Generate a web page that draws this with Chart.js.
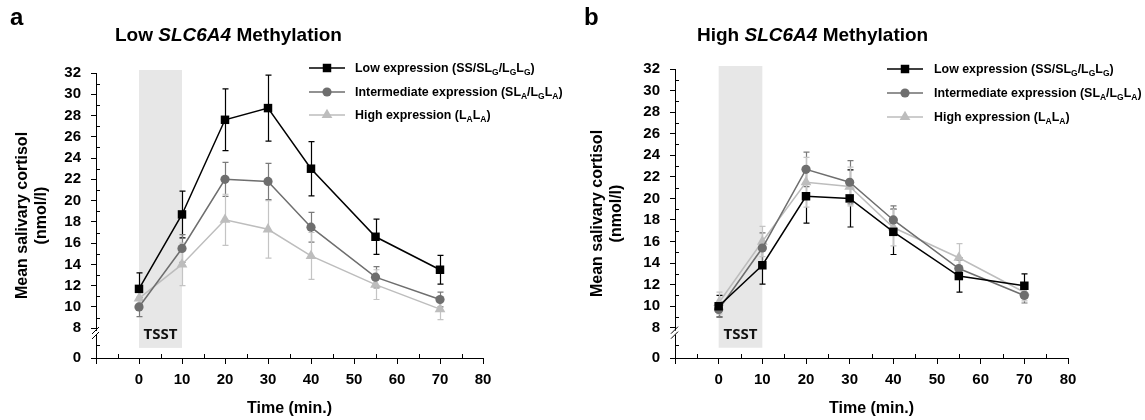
<!DOCTYPE html>
<html><head><meta charset="utf-8">
<script src="https://cdn.jsdelivr.net/npm/chart.js@4/dist/chart.umd.min.js"></script>
<style>
body{margin:0;background:#fff;width:1145px;height:420px;position:relative;overflow:hidden;font-family:"Liberation Sans",Arial,sans-serif;}
canvas{position:absolute;top:0;}
.lbl{position:absolute;font-weight:bold;color:#000;white-space:nowrap;}
.letter{font-size:24px;line-height:28px;}
.title{font-size:19px;line-height:22px;}
.leg{font-size:12.4px;line-height:16px;}
.leg sub{font-size:8.5px;vertical-align:-3px;line-height:0;}
</style></head>
<body>
<canvas id="c1" width="572" height="420" style="left:0px"></canvas>
<canvas id="c2" width="572" height="420" style="left:573px"></canvas>
<div id="overlay"></div>
<script>
// ---------- data ----------
const timePoints = [0, 10, 20, 30, 40, 55, 70];
const seriesLabelsHtml = [
  'Low expression (SS/SL<sub>G</sub>/L<sub>G</sub>L<sub>G</sub>)',
  'Intermediate expression (SL<sub>A</sub>/L<sub>G</sub>L<sub>A</sub>)',
  'High expression (L<sub>A</sub>L<sub>A</sub>)'
];
const panelLetters = ['a', 'b'];
const panelTitlesHtml = ['Low <i>SLC6A4</i> Methylation', 'High <i>SLC6A4</i> Methylation'];

// Panel a: Low SLC6A4 methylation
const lowMethLowExpr     = [11.7, 18.7, 27.6, 28.7, 23.0, 16.6, 13.5];
const lowMethLowExprErr  = [1.5, 2.2, 2.9, 3.1, 2.55, 1.65, 1.35];
const lowMethIntExpr     = [10.0, 15.5, 22.0, 21.8, 17.5, 12.8, 10.7];
const lowMethIntExprErr  = [0.9, 1.3, 1.6, 1.7, 1.4, 1.0, 0.7];
const lowMethHighExpr    = [10.8, 14.0, 18.2, 17.3, 14.8, 12.1, 9.8];
const lowMethHighExprErr = [0.8, 2.0, 2.4, 2.7, 2.2, 1.4, 1.0];

// Panel b: High SLC6A4 methylation
const highMethLowExpr     = [10.0, 13.8, 20.2, 20.0, 16.9, 12.8, 11.9];
const highMethLowExprErr  = [1.0, 1.75, 2.5, 2.65, 2.1, 1.5, 1.1];
const highMethIntExpr     = [9.7, 15.4, 22.7, 21.5, 18.0, 13.5, 11.0];
const highMethIntExprErr  = [0.7, 1.4, 1.6, 2.0, 1.3, 1.0, 0.7];
const highMethHighExpr    = [10.3, 16.0, 21.5, 21.1, 17.3, 14.5, 11.3];
const highMethHighExprErr = [1.0, 1.4, 2.3, 1.8, 1.7, 1.3, 0.8];

const tsstWindow = [0, 10];
const tsstLabel = 'TSST';
const xTickValues = [-10, 0, 10, 20, 30, 40, 50, 60, 70, 80];
const xMinorTicks = [-5, 5, 15, 25, 35, 45, 55, 65, 75];
const yTickValues = [8, 10, 12, 14, 16, 18, 20, 22, 24, 26, 28, 30, 32];
const yMinorTicks = [9, 11, 13, 15, 17, 19, 21, 23, 25, 27, 29, 31];
const yBreakLabel = '0';
const yAxisTitle = ['Mean salivary cortisol', '(nmol/l)'];
const xAxisTitle = 'Time (min.)';

// ---------- drawing ----------
Chart.defaults.font.family = '"Liberation Sans", Arial, sans-serif';
const Y_BASE = 5.2;          // axis position where the broken axis shows "0"
const Y_BREAK = 7.55;        // where the break symbol sits
const Y_BREAK_MINOR = 6.4;

const styles = [
  {color:'#000000', err:'#000000', pointStyle:'rect', radius:6},
  {color:'#6e6e6e', err:'#7a7a7a', pointStyle:'circle', radius:4.6},
  {color:'#bdbdbd', err:'#c4c4c4', pointStyle:'triangle', radius:6.2}
];

const decorPlugin = {
  id: 'decor',
  beforeDatasetsDraw(chart) {
    const {ctx, chartArea: a, scales: {x, y}} = chart;
    const x0 = x.getPixelForValue(tsstWindow[0]), x1 = x.getPixelForValue(tsstWindow[1]);
    const yTop = a.top - 3, yBot = y.getPixelForValue(6.15);
    ctx.save();
    ctx.fillStyle = '#e7e7e7';
    ctx.fillRect(x0, yTop, x1 - x0, yBot - yTop);
    ctx.fillStyle = '#111';
    ctx.font = 'bold 15px "Open Sans", sans-serif';
    ctx.textAlign = 'center';
    ctx.textBaseline = 'middle';
    ctx.fillText(tsstLabel, (x0 + x1) / 2, y.getPixelForValue(7.36));
    // error bars
    chart.data.datasets.forEach((ds) => {
      ctx.strokeStyle = ds.errColor;
      ctx.lineWidth = 1.2;
      ds.data.forEach((p, j) => {
        const e = ds.errors[j];
        const px = Math.round(x.getPixelForValue(p.x)) + 0.5;
        const yt = y.getPixelForValue(p.y + e), yb = y.getPixelForValue(p.y - e);
        ctx.beginPath();
        ctx.moveTo(px, yt); ctx.lineTo(px, yb);
        ctx.moveTo(px - 3, yt); ctx.lineTo(px + 3, yt);
        ctx.moveTo(px - 3, yb); ctx.lineTo(px + 3, yb);
        ctx.stroke();
      });
    });
    ctx.restore();
  },
  afterDraw(chart, args, opts) {
    const {ctx, chartArea: a, scales: {x, y}} = chart;
    ctx.save();
    ctx.strokeStyle = '#000';
    ctx.lineWidth = 1;
    ctx.beginPath();
    [...yMinorTicks, Y_BREAK_MINOR].forEach(v => {
      const py = Math.round(y.getPixelForValue(v)) + 0.5;
      ctx.moveTo(a.left, py); ctx.lineTo(a.left + 4, py);
    });
    xMinorTicks.forEach(v => {
      const px = Math.round(x.getPixelForValue(v)) + 0.5;
      ctx.moveTo(px, a.bottom); ctx.lineTo(px, a.bottom - 4);
    });
    ctx.stroke();
    // axis break
    const yc = y.getPixelForValue(Y_BREAK);
    ctx.fillStyle = '#fff';
    ctx.fillRect(a.left - 3, yc - 2, 6, 4);
    ctx.beginPath();
    ctx.moveTo(a.left - 4, yc + 1); ctx.lineTo(a.left + 3, yc - 6);
    ctx.moveTo(a.left - 4, yc + 6); ctx.lineTo(a.left + 3, yc - 1);
    ctx.stroke();
    // legend symbols
    chart.data.datasets.forEach((ds, i) => {
      const ry = opts.rows[i];
      ctx.strokeStyle = ds.borderColor;
      ctx.lineWidth = 1.5;
      ctx.beginPath();
      ctx.moveTo(opts.lineX0, ry); ctx.lineTo(opts.lineX1, ry);
      ctx.stroke();
      ctx.fillStyle = ds.pointBackgroundColor;
      Chart.helpers.drawPoint(ctx, {pointStyle: ds.pointStyle, radius: ds.pointRadius, rotation: 0, borderWidth: 0},
        (opts.lineX0 + opts.lineX1) / 2, ry);
    });
    ctx.restore();
  }
};

function makeDatasets(valueArrays, errArrays) {
  return valueArrays.map((vals, i) => ({
    label: 'series' + i,
    data: timePoints.map((t, j) => ({x: t, y: vals[j]})),
    errors: errArrays[i],
    errColor: styles[i].err,
    borderColor: styles[i].color,
    backgroundColor: styles[i].color,
    pointBackgroundColor: styles[i].color,
    pointBorderWidth: 0,
    pointStyle: styles[i].pointStyle,
    pointRadius: styles[i].radius,
    borderWidth: 1.5,
    tension: 0,
    order: i
  }));
}

function buildPanel(id, datasets, p) {
  new Chart(document.getElementById(id), {
    type: 'line',
    data: {datasets},
    plugins: [decorPlugin],
    options: {
      responsive: false,
      animation: false,
      devicePixelRatio: 1,
      layout: {padding: {left: 0, right: p.padRight, top: p.padTop, bottom: 0}},
      plugins: {legend: {display: false}, tooltip: {enabled: false},
        decor: {rows: p.legendRows, lineX0: p.legX0, lineX1: p.legX1}},
      scales: {
        x: {
          type: 'linear', min: -10, max: 80,
          afterBuildTicks: s => { s.ticks = xTickValues.map(v => ({value: v})); },
          ticks: {callback: v => (v < 0 ? '' : String(v)), font: {size: 15, weight: 'bold'}, color: '#000', padding: 7, autoSkip: false, maxRotation: 0},
          grid: {drawOnChartArea: false, drawTicks: true, tickLength: 6, color: '#000'},
          border: {color: '#000', width: 1},
          title: {display: true, text: xAxisTitle, font: {size: 16, weight: 'bold'}, color: '#000', padding: {top: 0, bottom: 2}},
          afterFit: s => { s.height = 62; }
        },
        y: {
          type: 'linear', min: Y_BASE, max: 32,
          afterBuildTicks: s => { s.ticks = [{value: Y_BASE}, ...yTickValues.map(v => ({value: v}))]; },
          ticks: {callback: v => (v === Y_BASE ? yBreakLabel : String(v)), font: {size: 15, weight: 'bold'}, color: '#000', padding: 10, autoSkip: false},
          grid: {drawOnChartArea: false, drawTicks: true, tickLength: 5, color: '#000'},
          border: {color: '#000', width: 1},
          title: {display: true, text: yAxisTitle, font: {size: 16, weight: 'bold'}, color: '#000', padding: {top: p.yTitlePad, bottom: 0}},
          afterFit: s => { s.width = p.yWidth; }
        }
      }
    }
  });
}

buildPanel('c1',
  makeDatasets([lowMethLowExpr, lowMethIntExpr, lowMethHighExpr], [lowMethLowExprErr, lowMethIntExprErr, lowMethHighExprErr]),
  {padRight: 89, padTop: 73, yWidth: 96, yTitlePad: 12.8, legendRows: [68, 92, 115], legX0: 309, legX1: 345});
buildPanel('c2',
  makeDatasets([highMethLowExpr, highMethIntExpr, highMethHighExpr], [highMethLowExprErr, highMethIntExprErr, highMethHighExprErr]),
  {padRight: 77, padTop: 69, yWidth: 102, yTitlePad: 14.8, legendRows: [69, 93, 117], legX0: 314, legX1: 350});

// ---------- HTML text: panel letters, titles, legend labels ----------
const ov = document.getElementById('overlay');
function addLabel(cls, html, left, top) {
  const d = document.createElement('div');
  d.className = 'lbl ' + cls;
  d.innerHTML = html;
  d.style.left = left + 'px';
  d.style.top = top + 'px';
  ov.appendChild(d);
}
addLabel('letter', panelLetters[0], 10, 3);
addLabel('letter', panelLetters[1], 584, 3);
addLabel('title', panelTitlesHtml[0], 115, 24);
addLabel('title', panelTitlesHtml[1], 697, 24);
[68, 92, 115].forEach((r, i) => addLabel('leg', seriesLabelsHtml[i], 355, r - 8));
[69, 93, 117].forEach((r, i) => addLabel('leg', seriesLabelsHtml[i], 934, r - 8));
</script>
</body></html>
